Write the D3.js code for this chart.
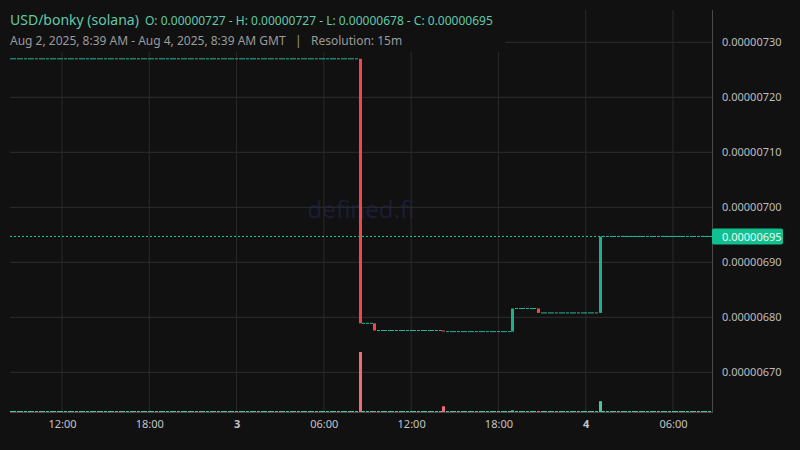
<!DOCTYPE html>
<html>
<head>
<meta charset="utf-8">
<script src="https://cdn.jsdelivr.net/npm/d3@7"></script>
<style>
  html, body { margin: 0; padding: 0; background: #111111; }
  svg { display: block; }
</style>
</head>
<body>
<svg id="chart"></svg>
<script>
// 15m candles, prices in USD
const runStarts = ['2025-08-02T08:30Z', '2025-08-03T08:45Z', '2025-08-03T09:45Z', '2025-08-03T14:30Z', '2025-08-03T19:15Z', '2025-08-03T21:00Z', '2025-08-04T01:15Z'];
const runEnds   = ['2025-08-03T08:15Z', '2025-08-03T09:15Z', '2025-08-03T14:00Z', '2025-08-03T18:45Z', '2025-08-03T20:30Z', '2025-08-04T00:45Z', '2025-08-04T08:30Z'];
const runPrices = [0.00000727, 0.000006789, 0.000006776, 0.000006774, 0.000006816, 0.000006808, 0.000006947];

const moveTimes  = ['2025-08-03T08:30Z', '2025-08-03T09:30Z', '2025-08-03T14:15Z', '2025-08-03T19:00Z', '2025-08-03T20:45Z', '2025-08-04T01:00Z'];
const moveOpen   = [0.00000727, 0.000006789, 0.000006776, 0.000006774, 0.000006816, 0.000006808];
const moveClose  = [0.000006789, 0.000006776, 0.000006774, 0.000006816, 0.000006808, 0.000006947];
const moveVolume = [1000, 0, 95, 28, 0, 180];

const yTicks = [0.0000067, 0.0000068, 0.0000069, 0.0000070, 0.0000071, 0.0000072, 0.0000073];
const xTicks = ['2025-08-02T12:00Z', '2025-08-02T18:00Z', '2025-08-03T00:00Z', '2025-08-03T06:00Z', '2025-08-03T12:00Z', '2025-08-03T18:00Z', '2025-08-04T00:00Z', '2025-08-04T06:00Z'];
const lastPrice = 0.000006947;

const W = 800, H = 450;
const plotL = 10, plotR = 712, plotT = 10, plotB = 412;
const upColor = '#1cb08f', downColor = '#f0464f', flatColor = '#22b39a';
const upVol = '#4cc4a2', downVol = '#ef6b7c';
const font = '"Noto Sans", "Open Sans", sans-serif';

const svg = d3.select('#chart').attr('width', W).attr('height', H);
svg.append('rect').attr('width', W).attr('height', H).attr('fill', '#111111');

const x = d3.scaleUtc()
  .domain([new Date('2025-08-02T08:25:36Z'), new Date('2025-08-04T08:40:48Z')])
  .range([plotL, plotR]);
const y = d3.scaleLinear()
  .domain([0.0000067, 0.0000073])
  .range([372.3, 42.3]);
const vy = d3.scaleLinear().domain([0, 1000]).range([plotB, 352]);

// candles
const candles = [];
runStarts.forEach((s, i) => {
  d3.utcMinute.every(15).range(new Date(s), d3.utcMinute.offset(new Date(runEnds[i]), 1))
    .forEach(t => candles.push({ t, o: runPrices[i], c: runPrices[i], v: 0 }));
});
moveTimes.forEach((s, i) => candles.push({ t: new Date(s), o: moveOpen[i], c: moveClose[i], v: moveVolume[i] }));
candles.sort((a, b) => a.t - b.t);

const bw = 3;
const bx = d => Math.round(x(d.t) - bw / 2);
const colorOf = d => d.c < d.o ? downColor : (d.c > d.o ? upColor : flatColor);

// watermark
svg.append('text')
  .attr('x', 361).attr('y', 208)
  .attr('text-anchor', 'middle').attr('dominant-baseline', 'central')
  .style('font-family', font).style('font-size', '24px')
  .attr('fill', '#1c1c36')
  .text('defined.fi');

// grid
const grid = svg.append('g');
grid.selectAll('line.h').data(yTicks).enter().append('line')
  .attr('x1', plotL).attr('x2', plotR)
  .attr('y1', d => y(d)).attr('y2', d => y(d))
  .attr('stroke', '#2e2e2e');
grid.selectAll('line.v').data(xTicks).enter().append('line')
  .attr('x1', d => x(new Date(d))).attr('x2', d => x(new Date(d)))
  .attr('y1', plotT).attr('y2', plotB)
  .attr('stroke', '#2a2a2a');

// last price line
svg.append('line')
  .attr('x1', plotL).attr('x2', plotR)
  .attr('y1', y(lastPrice)).attr('y2', y(lastPrice))
  .attr('stroke', '#1ec99a').attr('stroke-dasharray', '2,2');

// volume
svg.append('g').selectAll('rect').data(candles).enter().append('rect')
  .attr('x', bx)
  .attr('width', bw)
  .attr('y', d => Math.min(vy(d.v), plotB - 1))
  .attr('height', d => Math.max(plotB - vy(d.v), 1))
  .attr('fill', d => d.c < d.o ? downVol : upVol);

// candle bodies
svg.append('g').selectAll('rect').data(candles).enter().append('rect')
  .attr('x', bx)
  .attr('width', bw)
  .attr('y', d => d.o === d.c ? y(d.o) - 0.5 : Math.min(y(d.o), y(d.c)))
  .attr('height', d => Math.max(Math.abs(y(d.o) - y(d.c)), 1))
  .attr('fill', colorOf);

// frame lines
svg.append('line').attr('x1', plotL).attr('x2', plotR).attr('y1', plotB + 0.5).attr('y2', plotB + 0.5).attr('stroke', '#4a4a4a');
svg.append('line').attr('x1', plotR + 0.5).attr('x2', plotR + 0.5).attr('y1', plotT).attr('y2', plotB + 1).attr('stroke', '#4a4a4a');

// price axis
const yAxis = svg.append('g')
  .attr('transform', `translate(${plotR},0)`)
  .call(d3.axisRight(y).tickValues(yTicks).tickFormat(d3.format('.8f')).tickSize(0).tickPadding(10));
yAxis.select('.domain').remove();
yAxis.selectAll('text').attr('fill', '#bdbdbd').style('font-family', font).style('font-size', '11px');

// last price label
svg.append('rect')
  .attr('x', plotR).attr('y', y(lastPrice) - 8)
  .attr('width', 71).attr('height', 16).attr('rx', 2)
  .attr('fill', '#10c08f');
svg.append('text')
  .attr('x', plotR + 10).attr('y', y(lastPrice))
  .attr('dominant-baseline', 'central')
  .style('font-family', font).style('font-size', '11px')
  .attr('fill', '#eefaf5')
  .text(d3.format('.8f')(lastPrice));

// time axis
const dayFmt = d3.utcFormat('%-d'), hourFmt = d3.utcFormat('%H:%M');
const xAxis = svg.append('g')
  .attr('transform', `translate(0,${plotB})`)
  .call(d3.axisBottom(x).tickValues(xTicks.map(d => new Date(d)))
    .tickFormat(d => d.getUTCHours() === 0 ? dayFmt(d) : hourFmt(d))
    .tickSize(0).tickPadding(8));
xAxis.select('.domain').remove();
xAxis.selectAll('text')
  .attr('fill', '#c4c4c4')
  .style('font-family', font).style('font-size', '11px')
  .style('font-weight', d => d.getUTCHours() === 0 ? 'bold' : 'normal');

// header
svg.append('rect').attr('x', 0).attr('y', 0).attr('width', 505).attr('height', 52).attr('fill', '#111111');
svg.append('text')
  .attr('x', 10).attr('y', 25)
  .style('font-family', font).style('font-size', '14px')
  .attr('fill', '#62c9a9')
  .text('USD/bonky (solana)');
svg.append('text')
  .attr('x', 145).attr('y', 25)
  .style('font-family', font).style('font-size', '12px')
  .attr('fill', '#62c9a9')
  .text('O: 0.00000727 - H: 0.00000727 - L: 0.00000678 - C: 0.00000695');
svg.append('text')
  .attr('x', 10).attr('y', 45)
  .style('font-family', font).style('font-size', '12px')
  .attr('fill', '#9b9b9b')
  .attr('xml:space', 'preserve')
  .text('Aug 2, 2025, 8:39 AM - Aug 4, 2025, 8:39 AM GMT   |   Resolution: 15m');
</script>
</body>
</html>
